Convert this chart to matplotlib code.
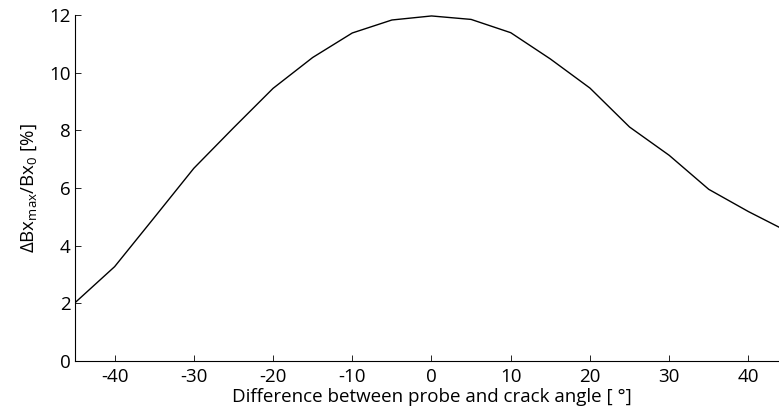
import numpy as np
import matplotlib
matplotlib.use("Agg")
import matplotlib.pyplot as plt

# ── Datos ─────────────────────────────────────────────────────────
angle_diff = [-45, -40, -35, -30, -25, -20, -15, -10, -5, 0,
              5, 10, 15, 20, 25, 30, 35, 40, 45]
dbx_ratio = [2.02, 3.27, 4.97, 6.68, 8.08, 9.45, 10.52, 11.37, 11.82, 11.96,
             11.84, 11.38, 10.47, 9.46, 8.11, 7.13, 5.95, 5.18, 4.48]

x_ticks = [-40, -30, -20, -10, 0, 10, 20, 30, 40]
y_ticks = [0, 2, 4, 6, 8, 10, 12]

# ── Estilo ────────────────────────────────────────────────────────
plt.rcParams['font.family'] = ['Open Sans', 'DejaVu Sans']
plt.rcParams['mathtext.fontset'] = 'custom'
plt.rcParams['mathtext.rm'] = 'Open Sans'
plt.rcParams['mathtext.it'] = 'Open Sans:italic'
plt.rcParams['mathtext.bf'] = 'Open Sans:bold'

tx = 13.5
W, H = 779, 412
fig = plt.figure(figsize=(W / 100, H / 100), dpi=100)

# ejes: izq 75 px, der ~788 px (recortado por la figura), abajo 361 px, arriba 14.8 px
x0, x1, y0, y1 = 75, 788, 361, 14.8
ax = fig.add_axes([x0 / W, 1 - y0 / H, (x1 - x0) / W, (y0 - y1) / H])

ax.plot(angle_diff, dbx_ratio, color='black', linewidth=1.0)

ax.set_xlim(-45, 45)
ax.set_ylim(0, 12)
ax.set_xticks(x_ticks)
ax.set_yticks(y_ticks)
ax.set_xticklabels([str(v) for v in x_ticks])

ax.spines['top'].set_visible(False)
ax.spines['right'].set_visible(False)
ax.spines['left'].set_linewidth(0.8)
ax.spines['bottom'].set_linewidth(0.8)
ax.tick_params(direction='in', length=4.3, width=0.6, labelsize=tx)
ax.tick_params(axis='x', pad=5)
ax.tick_params(axis='y', pad=3)

ax.set_xlabel('Difference between probe and crack angle [ °]', fontsize=tx)
ax.xaxis.set_label_coords(0.5, -0.078)
ax.set_ylabel(r'ΔBx$_{\mathrm{max}}$/Bx$_{\mathrm{0}}$ [%]', fontsize=tx)
ax.yaxis.set_label_coords(-0.05, 0.5)

plt.savefig("out.png", dpi=100)
